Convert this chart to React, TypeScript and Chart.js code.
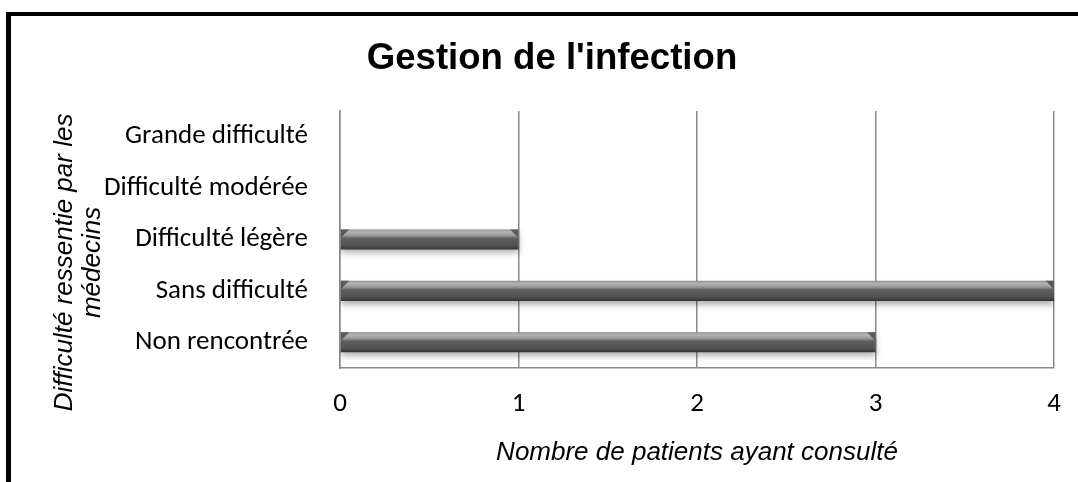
import React, { useEffect, useRef } from "react";
import { Chart, registerables } from "chart.js";

Chart.register(...registerables);

const TITLE = "Gestion de l'infection";
const X_TITLE = "Nombre de patients ayant consulté";
const Y_TITLE = ["Difficulté ressentie par les", "médecins"];
const CATEGORIES = [
  "Grande difficulté",
  "Difficulté modérée",
  "Difficulté légère",
  "Sans difficulté",
  "Non rencontrée",
];
const VALUES = [0, 0, 1, 4, 3];
const X_MIN = 0;
const X_MAX = 4;
const X_STEP = 1;

const W = 1078;
const H = 482;

const framePlugin = {
  id: "frame",
  afterDraw(chart: any) {
    const ctx = chart.ctx;
    ctx.save();
    ctx.fillStyle = "#000";
    ctx.fillRect(6, 12, chart.width - 6, 4);
    ctx.fillRect(6, 12, 5, chart.height - 12);
    ctx.restore();
  },
};

const yTitlePlugin = {
  id: "yTitle",
  afterDraw(chart: any) {
    const ctx = chart.ctx;
    const a = chart.chartArea;
    const cy = (a.top + a.bottom) / 2 + 23;
    ctx.save();
    ctx.fillStyle = "#000";
    ctx.font = "italic 26px 'Liberation Sans', Arial, sans-serif";
    ctx.textAlign = "center";
    ctx.textBaseline = "middle";
    const xs = [a.left - 275, a.left - 247];
    Y_TITLE.forEach((line, i) => {
      ctx.save();
      ctx.translate(xs[i], cy);
      ctx.rotate(-Math.PI / 2);
      ctx.fillText(line, 0, 0);
      ctx.restore();
    });
    ctx.restore();
  },
};

const barStylePlugin = {
  id: "barStyle",
  beforeDatasetsDraw(chart: any) {
    const ctx = chart.ctx;
    chart.getDatasetMeta(0).data.forEach((el: any) => {
      const top = el.y - el.height / 2;
      const bot = el.y + el.height / 2;
      const g = ctx.createLinearGradient(0, top, 0, bot);
      g.addColorStop(0, "#8e8e8e");
      g.addColorStop(0.12, "#b4b4b4");
      g.addColorStop(0.3, "#9a9a9a");
      g.addColorStop(0.45, "#5e5e5e");
      g.addColorStop(0.8, "#525252");
      g.addColorStop(1, "#343434");
      el.options = { ...el.options, backgroundColor: g };
    });
    ctx.save();
    ctx.shadowColor = "rgba(0,0,0,0.3)";
    ctx.shadowBlur = 6;
    ctx.shadowOffsetY = 4;
  },
  afterDatasetsDraw(chart: any) {
    const ctx = chart.ctx;
    ctx.restore();
    ctx.save();
    chart.getDatasetMeta(0).data.forEach((el: any) => {
      const w = Math.abs(el.x - el.base);
      if (w < 1) return;
      const top = el.y - el.height / 2;
      const s = el.height * 0.42;
      ctx.fillStyle = "#5a5a5a";
      ctx.beginPath();
      ctx.moveTo(el.x - s, top);
      ctx.lineTo(el.x, top);
      ctx.lineTo(el.x, top + s);
      ctx.closePath();
      ctx.fill();
      ctx.beginPath();
      ctx.moveTo(el.base + s, top);
      ctx.lineTo(el.base, top);
      ctx.lineTo(el.base, top + s);
      ctx.closePath();
      ctx.fill();
    });
    ctx.restore();
  },
};

export default function App() {
  const ref = useRef<HTMLCanvasElement>(null);
  useEffect(() => {
    if (!ref.current) return;
    const tickFont = { family: "Carlito, Lato, 'Open Sans', sans-serif", size: 27 };
    const chart = new Chart(ref.current, {
      type: "bar",
      data: {
        labels: CATEGORIES,
        datasets: [
          {
            data: VALUES,
            backgroundColor: "#555555",
            borderWidth: 0,
            barPercentage: 0.39,
            categoryPercentage: 1,
          },
        ],
      },
      plugins: [barStylePlugin, yTitlePlugin, framePlugin],
      options: {
        indexAxis: "y",
        responsive: false,
        animation: false,
        devicePixelRatio: 1,
        layout: { padding: { left: 50, right: 24, top: 0, bottom: 0 } },
        plugins: {
          legend: { display: false },
          tooltip: { enabled: false },
          title: {
            display: true,
            text: TITLE,
            color: "#000",
            font: { family: "'Liberation Sans', Arial, sans-serif", size: 36.6, weight: "bold", lineHeight: 1.2 },
            padding: { top: 37, bottom: 30 },
          },
        },
        scales: {
          x: {
            min: X_MIN,
            max: X_MAX,
            ticks: { stepSize: X_STEP, color: "#000", font: tickFont, padding: 20 },
            grid: { color: "#8a8a8a", lineWidth: 1.5, drawTicks: false },
            border: { color: "#8a8a8a", width: 1.5 },
            title: {
              display: true,
              text: X_TITLE,
              color: "#000",
              font: { family: "'Liberation Sans', Arial, sans-serif", size: 26, style: "italic", lineHeight: 1.15 },
              padding: { top: 0, bottom: 14 },
            },
            afterFit(scale: any) {
              scale.height = 114;
              scale.paddingLeft = 0;
              scale.paddingRight = 0;
            },
          },
          y: {
            ticks: { color: "#000", font: tickFont, padding: 32 },
            grid: { display: false, drawTicks: false },
            border: { color: "#8a8a8a", width: 1.5 },
            afterFit(scale: any) {
              scale.width = 290;
            },
          },
        },
      },
    });
    return () => chart.destroy();
  }, []);
  return (
    <div style={{ position: "absolute", left: 0, top: 0, width: W, height: H, background: "#fff" }}>
      <canvas ref={ref} width={W} height={H} style={{ display: "block" }} />
    </div>
  );
}
